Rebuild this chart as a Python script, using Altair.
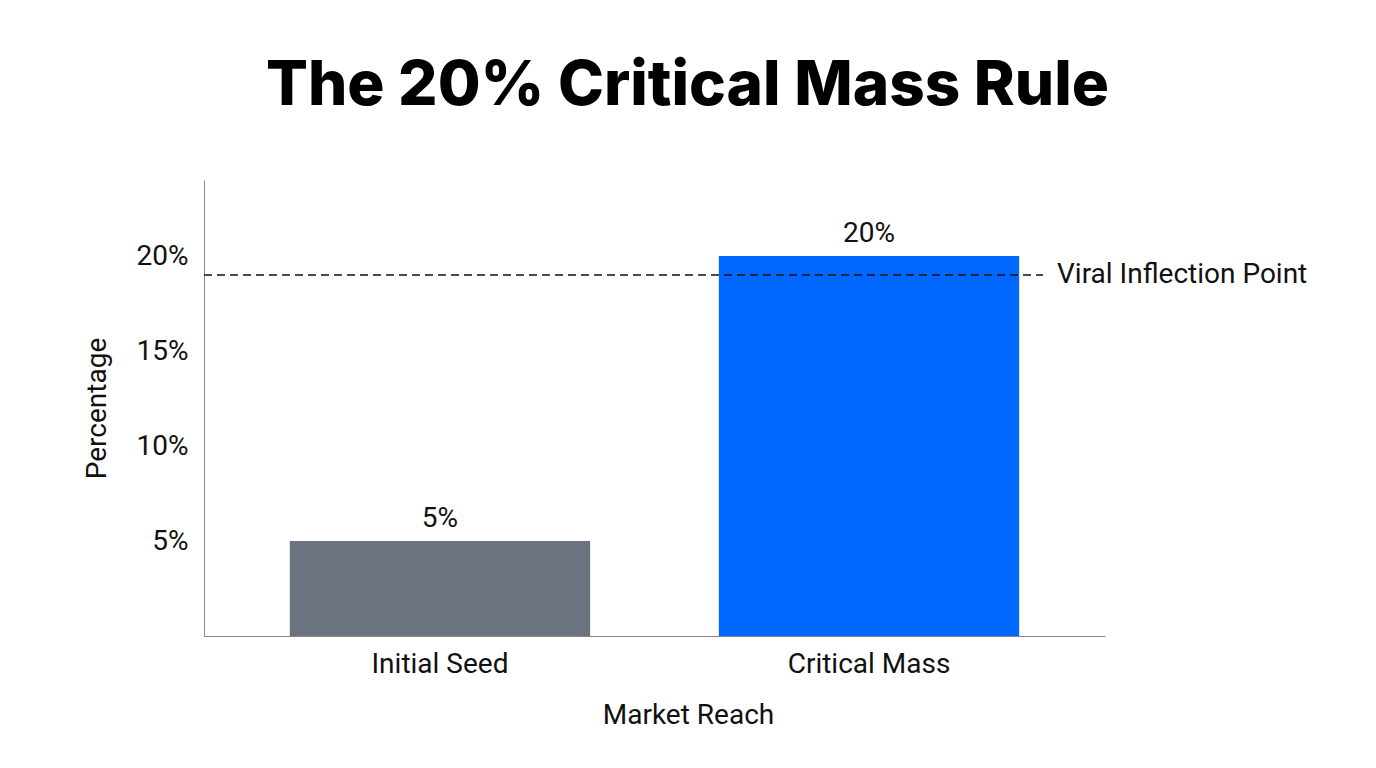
import altair as alt
import pandas as pd

categories = ["Initial Seed", "Critical Mass"]
values = [5, 20]
colors = ["#6b7280", "#0068ff"]
threshold_value = [19]
threshold_label = ["Viral Inflection Point"]
y_ticks = [5, 10, 15, 20]

df = pd.DataFrame({"Market Reach": categories, "Percentage": values, "color": colors})
df["label"] = df["Percentage"].astype(str) + "%"
tdf = pd.DataFrame({"t": threshold_value, "label": threshold_label})

FONT = "Roboto"
FS = 28

x_enc = alt.X(
    "Market Reach:N",
    sort=categories,
    title="Market Reach",
    scale=alt.Scale(paddingInner=0.3, paddingOuter=0.2),
    axis=alt.Axis(
        labelAngle=0, ticks=False, labelPadding=14, labelFontSize=FS, labelColor="#111",
        titleFontSize=FS, titleFontWeight="normal", titlePadding=23, titleColor="#111",
        titleX=484, domainColor="#888", labelFont=FONT, titleFont=FONT,
    ),
)
y_scale = alt.Scale(domain=[0, 24], nice=False)
y_axis = alt.Axis(
    values=y_ticks, labelExpr="datum.value + '%'", ticks=False, grid=False,
    labelPadding=16, labelFontSize=FS, labelColor="#111", titleFontSize=FS,
    titleFontWeight="normal", titlePadding=25, titleColor="#111", domainColor="#888",
    labelFont=FONT, titleFont=FONT,
)
y_enc = alt.Y("Percentage:Q", scale=y_scale, title="Percentage", axis=y_axis)

bars = alt.Chart(df).mark_bar().encode(
    x=x_enc, y=y_enc, color=alt.Color("color:N", scale=None)
)
texts = alt.Chart(df).mark_text(
    baseline="bottom", dy=-8, fontSize=FS, font=FONT, color="#111"
).encode(x=alt.X("Market Reach:N", sort=categories), y=y_enc, text="label:N")

rule = alt.Chart(tdf).mark_rule(
    strokeDash=[8, 5], strokeWidth=1.5, color="#111"
).encode(y=alt.Y("t:Q", scale=y_scale, title="Percentage", axis=y_axis),
         x=alt.value(0), x2=alt.value(839))

rule_text = alt.Chart(tdf).mark_text(
    align="left", baseline="middle", fontSize=FS, font=FONT, color="#111"
).encode(y=alt.Y("t:Q", scale=y_scale, title="Percentage", axis=y_axis),
         x=alt.value(853), text="label:N")

chart = alt.layer(bars, texts, rule, rule_text).properties(
    width=901, height=456,
    title=alt.TitleParams(
        "The 20% Critical Mass Rule", fontSize=62, font="Inter", fontWeight=800,
        color="#000", anchor="middle", dx=33, offset=62,
    ),
    padding={"left": 75, "top": 47, "right": 20, "bottom": 20},
).configure(background="white").configure_view(stroke=None)

chart.save("out.html", embed_options={"renderer": "svg", "actions": False})
